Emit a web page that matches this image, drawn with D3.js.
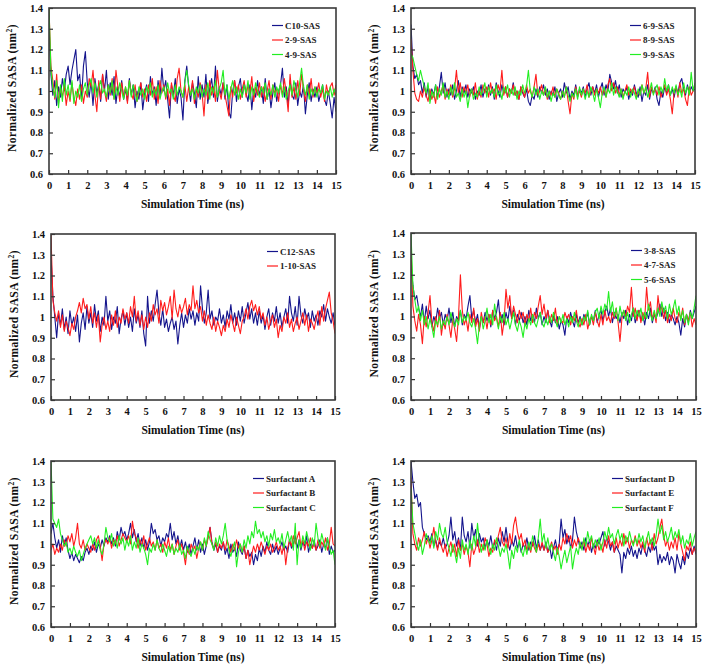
<!DOCTYPE html>
<html><head><meta charset="utf-8">
<script src="https://cdn.jsdelivr.net/npm/d3@7"></script>
<style>
body{margin:0;background:#fff;}
svg{display:block;font-family:"Liberation Serif","DejaVu Serif",serif;}
svg text{font-family:"Liberation Serif","DejaVu Serif",serif !important;}
</style></head>
<body>
<svg id="chart" width="706" height="665"></svg>
<script>
// ---------------- DATA ----------------
// Sampling times (ns): one sample every 0.1 ns from 0 to 15
const sampleTimes = d3.range(151).map(i => i / 10);
const xTicks = [0,1,2,3,4,5,6,7,8,9,10,11,12,13,14,15];
const yTicks = [0.6,0.7,0.8,0.9,1.0,1.1,1.2,1.3,1.4];
const xTitle = "Simulation Time (ns)";

// Panel 1
const c10SAS = [1.32,1.08,0.98,1.05,0.93,1.02,0.97,1.06,1.00,1.08,
1.12,1.03,1.10,1.15,1.20,1.05,1.08,0.96,1.12,1.19,
1.04,0.97,1.05,0.93,1.06,0.99,1.03,0.95,1.08,1.00,
1.10,0.96,1.04,0.98,1.07,0.94,1.02,0.97,1.05,0.96,
1.01,0.95,1.06,0.98,1.03,0.92,1.00,0.96,1.04,0.91,
0.99,1.03,0.95,1.07,0.98,1.02,0.93,1.05,0.97,1.11,
1.00,1.05,0.96,0.87,1.03,0.98,1.06,0.94,1.01,0.97,
0.86,1.05,1.12,1.02,0.95,1.04,0.99,0.92,1.07,0.96,
1.03,0.97,1.08,0.94,1.01,1.06,0.97,1.12,0.95,1.02,
0.98,1.04,0.96,1.03,0.90,0.87,1.00,1.05,0.95,1.02,
1.06,0.97,1.04,0.99,0.95,1.03,0.91,1.01,0.97,1.05,
0.98,1.02,0.94,1.06,0.96,1.01,0.92,0.99,1.04,0.95,
1.00,1.03,1.11,0.97,1.02,0.93,1.05,0.98,0.96,1.04,
0.93,1.00,0.97,1.03,0.89,0.98,1.04,0.95,1.01,0.97,
1.02,0.95,0.99,1.03,0.96,0.93,1.00,0.94,0.87,0.97,
0.90];
const s29SAS = [1.40,1.12,1.05,0.96,1.08,0.94,1.02,0.97,1.03,0.93,
1.00,0.95,1.04,0.97,0.93,1.01,0.96,1.03,0.94,1.00,
0.97,1.06,1.02,1.10,0.98,0.90,1.05,0.96,1.08,1.00,
0.95,1.03,0.98,1.06,0.96,1.10,1.02,0.95,1.04,0.97,
1.02,0.94,1.05,0.99,0.96,1.03,0.95,1.00,1.04,0.97,
1.01,0.95,1.03,0.98,1.06,0.96,1.02,0.94,1.05,0.99,
1.03,0.96,1.01,0.93,1.04,0.98,0.95,1.06,1.11,1.00,
0.97,1.03,0.95,1.02,0.98,1.05,0.94,1.01,0.97,1.04,
0.99,0.88,1.03,0.96,1.05,0.98,1.02,0.95,1.10,1.00,
0.96,1.04,0.98,0.93,0.88,1.02,0.97,1.05,0.99,1.03,
0.96,1.01,1.05,0.97,1.03,0.99,1.07,0.95,1.02,0.98,
1.04,0.97,1.02,0.95,1.00,1.05,0.96,1.03,0.99,1.01,
0.95,1.03,0.98,1.06,0.99,0.90,1.08,0.97,1.02,0.96,
1.05,0.98,1.08,1.01,0.95,1.03,0.98,1.06,0.97,1.02,
0.99,1.04,0.97,1.01,0.95,1.03,0.98,1.02,1.04,0.98,
1.03];
const s49SAS = [1.40,1.10,1.02,0.97,1.05,0.92,1.03,0.95,1.06,0.98,
1.03,0.96,1.05,0.94,1.00,0.97,1.03,0.95,1.01,1.04,
0.98,1.03,1.06,0.99,1.04,0.97,1.02,1.05,0.99,1.01,
0.97,1.03,0.99,1.05,0.96,1.02,0.98,1.04,1.00,0.96,
1.02,0.98,1.05,0.97,1.03,0.99,0.95,1.02,0.98,1.01,
0.96,1.02,0.99,1.04,0.97,1.01,0.98,1.03,0.96,1.00,
1.02,0.97,1.04,0.99,1.01,0.96,1.03,0.98,1.02,1.00,
0.97,1.04,1.10,1.03,0.98,1.01,0.96,1.02,0.99,1.03,
0.97,1.01,0.98,1.04,0.96,1.02,0.99,1.05,0.97,1.01,
1.04,1.10,0.98,1.03,0.96,1.01,1.05,0.98,1.02,0.96,
1.01,0.97,1.03,0.99,1.05,0.96,1.02,0.98,1.04,1.00,
0.97,1.02,0.99,1.04,0.96,1.01,0.98,1.03,0.97,1.02,
0.99,1.04,0.97,1.02,0.96,1.00,1.03,0.98,1.05,1.01,
0.97,1.04,1.11,1.02,0.98,1.03,0.96,1.01,0.98,1.02,
0.97,1.01,0.99,1.03,0.96,1.00,0.98,1.02,0.97,1.01,
0.98];

// Panel 2
const s69SAS = [1.32,1.12,1.06,1.08,1.03,1.05,0.99,1.04,0.97,1.02,
0.96,1.01,0.98,1.03,0.97,1.02,1.09,0.99,1.04,0.97,
1.01,0.98,1.03,0.96,1.00,1.05,0.97,1.02,0.99,1.03,
0.97,1.01,0.99,1.02,0.96,1.00,0.98,1.03,0.97,1.01,
0.99,1.03,0.98,1.02,0.96,1.04,1.00,0.97,1.03,0.99,
1.02,0.97,1.01,0.99,1.04,0.98,1.00,0.96,1.02,0.99,
0.97,1.01,0.95,0.93,0.98,0.96,1.01,0.97,1.02,0.99,
1.03,0.98,1.01,0.96,1.00,0.98,1.02,0.95,0.99,1.01,
0.97,1.04,0.99,1.02,0.96,1.00,0.98,1.03,0.97,1.01,
0.99,1.02,0.97,1.01,1.04,0.98,1.02,0.99,1.03,0.97,
1.01,1.04,0.98,1.03,1.00,1.08,1.04,1.01,1.05,0.99,
1.03,0.97,1.01,0.99,1.02,0.96,1.00,0.98,1.03,0.99,
0.97,1.02,0.95,1.00,0.98,1.03,0.96,1.01,0.99,1.02,
0.96,0.93,1.00,0.97,1.02,0.99,1.03,0.98,1.01,0.97,
1.02,0.99,1.04,1.06,1.01,0.98,1.03,0.99,1.02,1.00,
1.01];
const s89SAS = [1.25,1.10,0.99,0.96,0.95,1.00,0.97,1.02,0.98,0.95,
1.01,0.96,0.99,0.94,1.02,0.97,1.00,1.03,0.96,1.01,
0.98,1.03,0.97,1.01,1.10,0.99,1.04,0.97,1.02,0.99,
1.03,0.97,1.01,0.98,1.04,0.96,1.00,0.97,1.03,0.99,
1.02,0.97,1.04,0.99,1.01,0.96,1.03,1.00,1.10,0.98,
1.02,0.97,1.01,0.99,1.03,0.98,1.00,0.96,1.02,1.00,
0.97,1.03,0.99,1.01,0.97,1.02,1.08,0.98,1.00,1.03,
0.98,1.01,0.96,1.00,0.98,1.02,0.97,1.01,0.99,0.96,
1.00,0.97,1.02,0.95,0.89,0.99,0.96,1.02,0.98,1.00,
0.97,1.01,0.99,1.03,0.97,1.00,1.02,0.98,1.01,0.99,
1.02,0.98,1.01,0.97,1.03,1.06,1.00,1.04,0.99,1.02,
0.98,1.01,0.97,1.00,1.03,0.98,1.01,0.99,1.02,0.97,
1.00,0.98,1.03,0.99,1.01,1.09,0.97,1.02,0.99,1.01,
0.98,1.02,0.97,1.00,1.03,0.98,1.01,0.96,0.89,1.00,
1.02,0.97,1.04,0.99,1.01,0.96,0.93,1.02,0.98,1.00,
1.03];
const s99SAS = [1.18,1.16,1.12,1.08,1.05,1.10,1.06,1.02,0.99,1.04,
0.94,1.00,0.97,1.03,0.96,1.01,0.98,1.04,0.97,1.00,
0.96,1.02,0.98,1.04,0.97,0.99,0.95,1.01,0.97,1.00,
0.92,0.98,1.01,0.96,0.99,0.97,1.02,0.98,1.00,1.04,
0.97,1.02,0.99,1.01,0.97,1.03,0.98,1.00,0.96,1.02,
0.99,1.03,0.97,1.01,0.98,1.02,0.96,1.00,0.98,1.03,
0.99,1.02,1.10,1.00,0.97,1.02,0.98,1.01,0.96,1.00,
0.98,1.02,0.97,1.00,0.95,0.99,0.97,1.01,0.98,0.96,
1.00,0.97,1.02,0.98,0.95,0.99,0.97,1.01,0.96,1.02,
0.98,1.01,0.96,1.00,0.97,1.02,0.99,0.95,1.01,0.97,
0.92,0.99,1.02,0.97,1.01,0.99,1.04,0.98,1.02,1.00,
0.97,1.01,0.96,1.00,0.98,1.02,0.97,1.01,0.99,0.96,
1.01,0.98,1.03,0.99,1.02,0.97,1.00,1.04,0.98,1.01,
1.03,0.98,1.02,0.99,1.06,1.00,1.03,0.98,1.02,0.99,
1.03,0.98,1.01,0.97,1.04,0.99,1.02,0.98,1.09,1.00,
1.04];

// Panel 3
const c12SAS = [1.30,1.10,1.00,0.90,1.02,0.96,1.04,0.94,1.00,0.92,
1.03,0.96,1.00,0.93,1.01,0.88,0.97,1.02,0.94,1.05,
0.97,1.02,0.95,1.06,0.98,1.03,0.93,1.00,0.96,1.10,
0.98,1.03,0.94,1.00,0.97,1.05,0.92,0.99,1.03,0.96,
1.02,0.95,1.00,0.93,1.04,0.97,1.01,0.95,1.03,0.92,
0.86,1.10,0.97,1.03,0.98,1.06,1.13,1.02,0.96,1.04,
0.95,0.99,0.93,0.97,1.00,0.94,0.98,0.87,0.96,1.02,
0.95,1.01,0.97,1.04,0.99,1.03,0.96,1.02,0.98,1.15,
1.04,0.97,1.02,1.13,0.99,1.03,0.96,1.00,0.98,1.04,
0.97,1.01,0.95,1.03,0.99,1.06,0.97,1.02,0.96,1.03,
0.98,1.05,0.97,1.02,1.07,0.99,1.04,0.97,1.02,0.96,
1.03,0.97,1.01,0.94,1.00,1.04,0.96,1.02,0.98,1.05,
0.97,1.02,0.95,1.00,1.04,0.97,1.10,1.02,0.98,1.05,
0.96,1.10,1.01,0.97,1.04,0.99,1.02,0.95,1.03,0.98,
1.01,0.96,1.03,1.00,1.06,0.98,1.04,1.00,0.97,1.02,
0.96];
const s110SAS = [1.40,1.08,1.02,0.98,1.03,0.95,1.01,0.93,0.98,0.95,
0.91,0.97,0.94,1.00,1.03,1.07,1.02,1.09,1.04,1.06,
0.99,1.05,0.97,1.02,0.95,1.01,0.88,0.96,1.00,0.94,
0.98,0.93,1.01,0.96,1.03,0.95,1.00,0.97,1.04,0.99,
1.02,0.97,1.05,1.00,1.10,0.98,1.03,0.96,1.01,0.94,
1.00,0.95,1.02,0.98,1.06,1.01,1.04,0.97,1.08,1.03,
1.07,1.01,1.05,1.10,0.99,1.13,1.04,1.00,1.06,1.02,
1.05,1.09,1.01,1.06,1.03,1.15,1.04,1.08,1.02,1.05,
0.98,1.03,0.96,1.01,0.97,0.94,1.00,0.93,0.98,0.95,
0.91,0.96,0.93,0.99,0.95,1.01,0.97,0.93,1.00,0.96,
0.92,0.98,1.00,1.04,0.99,1.05,1.08,1.03,1.06,1.01,
1.05,0.99,1.02,0.96,1.00,0.94,0.98,1.01,0.95,0.99,
0.90,0.96,0.93,1.00,0.97,1.02,0.95,0.99,0.93,0.97,
1.00,0.94,0.98,1.02,0.96,1.01,0.93,0.99,0.97,0.94,
0.99,1.03,0.96,1.05,0.98,1.04,1.08,1.12,1.02,0.98,
0.92];

// Panel 4
const s38SAS = [1.25,1.15,1.08,1.10,1.04,1.00,1.06,0.97,1.05,0.99,
1.03,0.95,1.00,0.97,1.04,0.99,1.02,0.96,1.01,0.98,
1.04,0.97,1.02,0.95,1.00,0.98,1.03,0.96,1.01,0.99,
1.05,1.10,0.99,1.03,0.97,1.01,0.94,1.00,0.97,1.02,
0.98,1.01,0.95,1.03,0.99,1.02,1.08,0.97,1.01,0.96,
1.02,0.98,1.05,0.99,1.03,0.96,1.01,0.98,1.02,0.97,
1.00,0.96,1.03,0.98,1.01,0.97,1.04,0.99,1.02,0.96,
1.00,0.97,1.03,0.98,0.95,1.01,0.97,1.00,0.94,0.98,
0.96,0.91,1.00,0.97,1.02,0.98,0.95,1.01,0.97,1.00,
0.96,1.01,0.98,1.02,0.96,1.00,0.98,1.03,0.97,1.01,
1.03,0.98,1.02,1.05,1.00,1.04,0.97,1.02,0.99,1.01,
0.97,1.02,0.99,1.03,0.96,1.01,0.98,1.04,0.97,1.00,
1.03,0.98,1.01,0.96,1.02,0.99,1.04,0.97,1.01,0.99,
1.02,1.06,1.00,1.04,0.98,1.02,0.97,1.01,0.99,0.96,
1.00,0.97,0.91,0.99,0.95,1.01,0.97,1.03,0.99,1.02,
1.05];
const s47SAS = [1.33,1.05,0.98,0.93,1.01,0.96,0.87,1.00,0.95,1.02,
1.10,0.97,0.93,1.00,0.95,1.03,0.91,0.98,0.94,1.01,
0.96,0.90,0.99,0.94,0.88,1.00,1.20,1.03,0.96,0.99,
0.93,1.01,0.97,1.04,0.95,0.99,0.93,1.02,0.97,1.00,
0.94,1.01,0.96,1.03,0.98,1.00,0.95,1.02,0.91,0.98,
1.13,1.04,1.10,0.99,1.05,1.01,0.97,1.03,0.99,1.02,
0.96,1.01,0.98,1.04,0.97,1.02,0.99,1.05,1.10,1.01,
1.06,0.99,1.03,0.97,1.01,0.98,1.04,0.96,1.00,0.98,
0.97,1.02,0.99,1.01,0.96,1.00,0.98,1.03,0.97,0.95,
0.99,0.96,1.01,0.94,0.98,1.00,0.96,1.02,0.98,0.95,
1.01,0.96,1.03,0.98,1.00,0.97,1.02,0.99,1.04,0.97,
0.88,0.99,1.03,1.00,1.05,1.02,1.14,1.00,1.04,0.98,
1.03,0.97,1.02,0.99,1.14,1.03,1.07,0.99,1.02,0.97,
1.10,1.02,1.05,0.99,1.03,0.97,1.01,0.98,1.04,0.99,
0.97,1.02,0.99,1.04,0.96,1.01,0.98,1.02,0.95,0.99,
0.96];
const s56SAS = [1.40,1.15,1.08,1.02,1.05,0.98,1.03,0.96,1.00,0.94,
0.99,0.95,0.90,0.98,0.96,1.00,0.94,0.98,0.96,1.00,
0.96,1.02,0.98,0.95,0.99,0.96,1.03,0.97,1.00,0.98,
1.02,0.97,0.95,0.99,0.94,0.87,0.96,1.00,0.94,0.98,
1.04,0.97,1.01,0.96,1.06,0.99,0.94,1.00,0.97,1.02,
0.96,0.99,0.94,0.98,1.02,0.96,0.93,0.98,0.95,0.90,
0.97,0.94,0.99,0.96,1.01,0.97,0.95,0.99,1.02,0.97,
0.95,0.99,0.96,1.00,0.97,1.02,0.98,0.95,1.00,0.97,
1.01,0.96,0.99,0.95,1.00,0.97,1.02,0.98,0.95,0.99,
0.96,1.00,0.98,1.03,0.96,1.01,0.98,1.02,1.04,0.99,
1.05,1.01,1.06,1.03,1.12,1.02,1.07,1.00,1.04,0.98,
1.05,1.00,1.03,0.98,1.02,0.97,1.01,1.04,0.99,1.03,
1.00,1.04,0.98,1.02,0.99,1.06,1.01,0.98,1.03,0.99,
1.04,1.00,1.07,1.02,1.05,0.99,1.06,1.01,1.04,1.08,
1.01,1.05,0.98,1.03,0.97,1.01,0.96,1.02,0.99,1.04,
1.10];

// Panel 5
const surfA = [1.05,1.10,1.03,0.98,1.02,0.96,1.04,0.99,1.03,0.97,
0.93,0.96,0.92,0.95,0.93,0.91,0.94,0.92,0.96,0.98,
0.95,0.99,0.97,1.01,0.96,1.00,0.98,1.02,0.99,1.03,
1.01,1.04,1.00,1.03,0.99,1.06,1.02,1.08,1.04,1.06,
1.02,1.05,1.10,1.03,1.07,1.01,1.05,0.99,1.03,0.98,
1.02,0.97,1.01,1.10,1.05,1.07,1.02,1.04,0.99,1.03,
1.01,1.05,1.03,1.10,1.02,1.06,1.00,1.04,0.98,1.02,
0.97,1.01,0.96,1.00,0.95,0.99,1.03,0.97,1.02,0.96,
1.00,0.95,0.99,1.04,1.08,1.01,0.97,1.00,0.96,0.99,
0.97,1.01,0.95,0.98,0.93,1.00,0.96,0.98,0.94,1.01,
0.97,0.95,0.99,0.93,0.97,0.94,0.96,0.90,0.95,0.92,
0.98,0.94,0.99,0.96,1.01,0.97,0.95,1.00,0.96,0.99,
0.95,0.98,1.01,0.97,0.99,0.96,1.02,0.98,1.00,1.04,
0.98,1.02,0.97,1.01,0.99,1.04,0.96,1.00,0.98,1.02,
0.97,0.99,1.02,0.96,1.00,0.98,1.03,0.95,0.99,0.96,
0.97];
const surfB = [0.97,1.00,0.95,0.98,0.96,1.00,0.97,1.02,0.99,1.04,
1.01,1.05,0.99,1.03,1.10,1.00,0.98,1.02,0.97,1.00,
0.98,0.96,1.00,0.97,1.02,1.04,0.99,0.92,1.00,1.02,
1.00,1.03,0.98,1.02,1.00,1.04,0.99,1.02,1.05,1.03,
1.01,1.04,1.00,1.11,1.05,1.03,0.98,1.02,0.99,1.04,
0.97,1.00,1.03,0.99,1.01,0.97,1.02,0.98,1.00,0.96,
1.01,0.98,1.03,0.97,1.00,0.95,0.99,1.02,0.97,1.00,
0.96,0.90,0.98,0.95,1.00,0.97,0.99,0.93,0.98,1.01,
0.97,1.02,0.99,1.03,1.08,1.00,0.98,1.01,0.96,1.00,
0.98,1.01,0.97,1.02,0.99,0.96,1.00,0.97,1.02,0.98,
1.00,0.96,0.99,0.93,0.97,0.90,0.95,0.99,0.96,1.00,
0.97,1.01,0.98,0.95,0.99,0.97,1.00,0.96,0.98,1.01,
0.97,0.99,0.95,1.00,0.90,0.98,1.02,0.99,1.04,1.00,
1.03,1.06,0.99,1.02,0.97,1.01,0.99,1.03,0.98,1.00,
0.97,1.02,0.98,1.01,0.99,1.03,0.97,1.00,1.08,1.00,
0.99];
const surfC = [1.40,1.12,1.10,1.08,1.12,1.05,1.02,0.99,1.01,0.96,
0.98,0.95,0.99,0.96,0.94,0.97,0.92,0.95,0.98,1.00,
1.02,1.04,1.00,1.03,0.98,1.02,0.97,0.95,1.00,1.08,
1.03,1.01,1.05,0.99,1.02,0.98,1.04,1.00,1.03,0.97,
1.02,0.99,1.04,0.97,1.01,0.98,1.03,0.96,1.00,0.98,
0.95,0.90,0.98,0.96,1.00,0.97,1.02,0.98,0.96,1.00,
0.97,0.94,0.99,0.96,1.00,0.95,0.98,0.96,1.00,0.95,
0.97,0.93,0.99,0.96,0.94,0.98,0.95,0.99,0.97,1.01,
0.97,1.03,0.99,1.06,1.02,1.00,0.97,1.03,0.99,1.04,
1.00,1.04,1.10,1.02,0.97,0.94,0.98,1.01,0.89,0.96,
1.00,0.96,1.02,0.98,1.04,1.00,1.06,1.03,1.11,1.05,
1.07,1.03,1.06,1.01,1.04,0.99,1.05,1.02,1.07,1.01,
1.03,1.00,1.05,0.98,1.02,1.06,1.01,1.04,0.97,1.10,
0.90,1.02,0.98,1.04,1.00,1.06,1.02,0.97,1.03,0.99,
1.10,1.03,0.99,1.05,1.01,0.97,1.03,0.99,0.95,0.97,
0.90];

// Panel 6
const surfD = [1.40,1.30,1.22,1.24,1.18,1.20,1.08,1.05,1.02,1.04,
1.01,1.05,0.99,1.02,0.98,1.01,0.99,1.03,0.98,1.00,
1.04,1.13,1.02,1.06,0.99,1.03,0.97,1.13,1.04,1.01,
1.06,0.98,1.10,1.03,1.07,0.99,1.05,1.01,1.03,0.98,
1.02,0.99,1.04,0.98,1.01,0.97,1.03,0.99,1.06,1.01,
1.08,1.01,0.97,1.02,0.99,1.04,0.98,1.01,0.96,1.00,
0.98,1.03,0.97,1.01,0.99,1.04,0.98,1.02,0.97,1.00,
0.97,1.01,0.96,0.99,0.93,0.98,1.02,0.97,1.00,1.12,
1.03,1.07,1.00,1.04,0.98,1.02,1.13,1.06,1.02,0.98,
1.01,0.97,1.03,0.99,1.02,0.96,1.00,0.98,1.02,1.00,
1.03,1.06,0.99,1.03,1.01,0.97,1.01,0.96,0.99,0.97,
0.95,0.86,0.96,0.93,0.98,0.95,0.99,0.94,0.97,0.93,
0.98,0.95,1.00,0.97,0.94,0.99,0.96,1.01,0.97,0.99,
0.90,0.95,0.91,0.94,0.92,0.96,0.90,0.94,0.92,0.86,
0.95,0.91,0.88,0.94,0.90,0.96,0.93,0.98,0.95,0.99,
0.95];
const surfE = [1.32,1.05,1.00,0.97,1.03,0.99,1.02,1.06,1.00,1.03,
0.98,1.02,1.08,1.01,0.97,1.03,0.99,0.96,1.00,0.94,
0.98,1.01,0.96,1.00,0.94,1.02,0.97,1.00,0.95,0.99,
0.96,0.89,1.00,0.95,0.98,1.02,0.96,1.00,0.97,1.03,
1.00,0.94,0.98,0.96,1.02,1.00,1.04,1.08,1.01,0.99,
1.03,0.98,1.05,1.00,1.09,1.13,1.06,1.02,1.05,0.99,
1.02,0.97,1.00,0.96,1.01,0.98,0.96,1.00,0.97,1.01,
0.97,1.00,0.96,0.98,1.01,0.97,0.99,0.95,1.00,0.97,
1.03,1.00,1.05,1.01,1.04,0.98,1.02,0.99,1.03,1.00,
0.98,1.02,0.96,1.00,0.97,1.03,0.99,0.95,1.01,0.97,
1.00,0.96,1.02,0.98,1.04,0.99,1.01,0.96,1.03,0.98,
1.02,0.99,1.05,1.00,1.03,0.98,1.02,1.00,1.04,0.99,
1.02,0.98,1.01,0.96,1.03,0.99,1.02,0.97,1.05,1.00,
1.03,1.08,1.12,1.04,0.99,1.02,0.97,1.01,0.98,1.03,
0.97,1.05,1.00,0.96,0.92,0.99,0.97,1.01,0.95,0.98,
0.96];
const surfF = [1.27,1.10,1.05,1.00,0.97,1.02,0.95,0.99,1.05,1.02,
1.00,1.04,0.98,1.06,1.02,1.10,1.05,1.03,1.08,1.01,
0.98,0.94,1.00,0.96,0.91,0.98,0.93,1.02,0.97,1.00,
0.95,1.02,0.97,1.04,0.99,1.10,1.01,0.96,1.00,0.97,
1.02,0.98,0.95,1.00,0.97,1.03,0.99,0.94,0.98,0.96,
1.00,0.95,0.88,0.97,0.93,0.99,0.96,1.02,0.97,0.94,
0.99,0.95,1.01,0.97,1.04,1.00,0.96,1.03,1.12,1.01,
1.05,0.98,1.03,0.97,1.00,0.96,0.92,0.98,0.94,0.88,
0.93,0.97,0.91,0.95,0.99,0.88,0.94,0.98,0.95,1.01,
0.97,1.03,0.99,1.06,1.01,1.04,0.98,1.02,0.99,1.03,
0.97,1.01,1.06,1.02,1.08,1.03,1.05,1.00,1.04,1.07,
1.02,1.05,0.99,1.04,1.01,1.06,1.02,0.99,1.03,1.00,
1.05,1.01,1.04,0.98,1.02,1.06,1.00,1.03,0.99,1.04,
1.12,1.05,1.09,1.02,1.06,1.01,1.04,1.08,1.02,1.06,
1.03,1.07,1.00,1.04,0.98,1.02,1.00,1.05,0.99,1.03,
1.06];

// ---------------- PANELS (layout + series) ----------------
const COLORS = {blue:"#14148c", red:"#ff1c1c", green:"#22ee22"};
const panels = [
  {left:49, top:8, right:336, bottom:174, legX:272,
   series:[{name:"C10-SAS",values:c10SAS,color:COLORS.blue},{name:"2-9-SAS",values:s29SAS,color:COLORS.red},{name:"4-9-SAS",values:s49SAS,color:COLORS.green}]},
  {left:411, top:8, right:695, bottom:174, legX:630,
   series:[{name:"6-9-SAS",values:s69SAS,color:COLORS.blue},{name:"8-9-SAS",values:s89SAS,color:COLORS.red},{name:"9-9-SAS",values:s99SAS,color:COLORS.green}]},
  {left:51, top:234, right:335, bottom:400, legX:267,
   series:[{name:"C12-SAS",values:c12SAS,color:COLORS.blue},{name:"1-10-SAS",values:s110SAS,color:COLORS.red}]},
  {left:411, top:233, right:696, bottom:400, legX:631,
   series:[{name:"3-8-SAS",values:s38SAS,color:COLORS.blue},{name:"4-7-SAS",values:s47SAS,color:COLORS.red},{name:"5-6-SAS",values:s56SAS,color:COLORS.green}]},
  {left:51, top:461, right:335, bottom:627, legX:253,
   series:[{name:"Surfactant A",values:surfA,color:COLORS.blue},{name:"Surfactant B",values:surfB,color:COLORS.red},{name:"Surfactant C",values:surfC,color:COLORS.green}]},
  {left:411, top:461, right:696, bottom:627, legX:612,
   series:[{name:"Surfactant D",values:surfD,color:COLORS.blue},{name:"Surfactant E",values:surfE,color:COLORS.red},{name:"Surfactant F",values:surfF,color:COLORS.green}]}
];

const FONT = "'Liberation Serif','DejaVu Serif',serif";
const svg = d3.select("#chart");
const fmtY = d => (Math.round(d*10)/10).toString();

panels.forEach((p, pi) => {
  const x = d3.scaleLinear().domain([0,15]).range([p.left, p.right]);
  const y = d3.scaleLinear().domain([0.6,1.4]).range([p.bottom, p.top]);
  const g = svg.append("g").attr("font-family", FONT);

  g.append("clipPath").attr("id","clip"+pi)
    .append("rect").attr("x",p.left).attr("y",p.top)
    .attr("width",p.right-p.left).attr("height",p.bottom-p.top);

  const line = d3.line().x((d,i)=>x(sampleTimes[i])).y(d=>y(d));
  const lg = g.append("g").attr("clip-path","url(#clip"+pi+")");
  p.series.forEach(s => {
    lg.append("path").datum(s.values).attr("d",line)
      .attr("fill","none").attr("stroke",s.color).attr("stroke-width",1.1)
      .attr("stroke-linejoin","round");
  });

  // axes
  const ax = g.append("g").attr("transform",`translate(0,${p.bottom})`)
    .call(d3.axisBottom(x).tickValues(xTicks).tickSize(-4).tickSizeOuter(0).tickPadding(8));
  const ay = g.append("g").attr("transform",`translate(${p.left},0)`)
    .call(d3.axisLeft(y).tickValues(yTicks).tickFormat(fmtY).tickSize(-4).tickSizeOuter(0).tickPadding(6));
  [ax,ay].forEach(a => {
    a.attr("font-family", FONT);
    a.select(".domain").remove();
    a.selectAll(".tick line").attr("stroke","#333").attr("stroke-width",1.2);
    a.selectAll(".tick text").attr("fill","#111").attr("font-family", FONT)
      .attr("font-size",10.5).attr("font-weight","bold");
  });

  // frame
  g.append("rect").attr("x",p.left).attr("y",p.top)
    .attr("width",p.right-p.left).attr("height",p.bottom-p.top)
    .attr("fill","none").attr("stroke","#3a3a3a").attr("stroke-width",1.6);

  // x title
  g.append("text").attr("x",(p.left+p.right)/2).attr("y",p.bottom+34)
    .attr("text-anchor","middle").attr("font-size",11.5).attr("font-weight","bold").attr("fill","#111")
    .text(xTitle);

  // y title
  const cy = (p.top+p.bottom)/2 - 3;
  const yt = g.append("text")
    .attr("transform",`translate(${p.left-37},${cy}) rotate(-90)`)
    .attr("text-anchor","middle").attr("dy","0.35em")
    .attr("font-size",11.5).attr("font-weight","bold").attr("fill","#111")
    .style("letter-spacing","0.4px");
  yt.append("tspan").text("Normalized SASA (nm");
  yt.append("tspan").attr("dy",-4).attr("font-size",7.5).text("2");
  yt.append("tspan").attr("dy",4).text(")");

  // legend
  p.series.forEach((s, si) => {
    const ly = p.top + 17.5 + si*14.5;
    g.append("line").attr("x1",p.legX).attr("x2",p.legX+11)
      .attr("y1",ly).attr("y2",ly).attr("stroke",s.color).attr("stroke-width",1.2);
    g.append("text").attr("x",p.legX+13).attr("y",ly).attr("dy","0.35em")
      .attr("font-size",9).attr("font-weight","bold").attr("fill","#222")
      .text(s.name);
  });
});
</script>
</body></html>
